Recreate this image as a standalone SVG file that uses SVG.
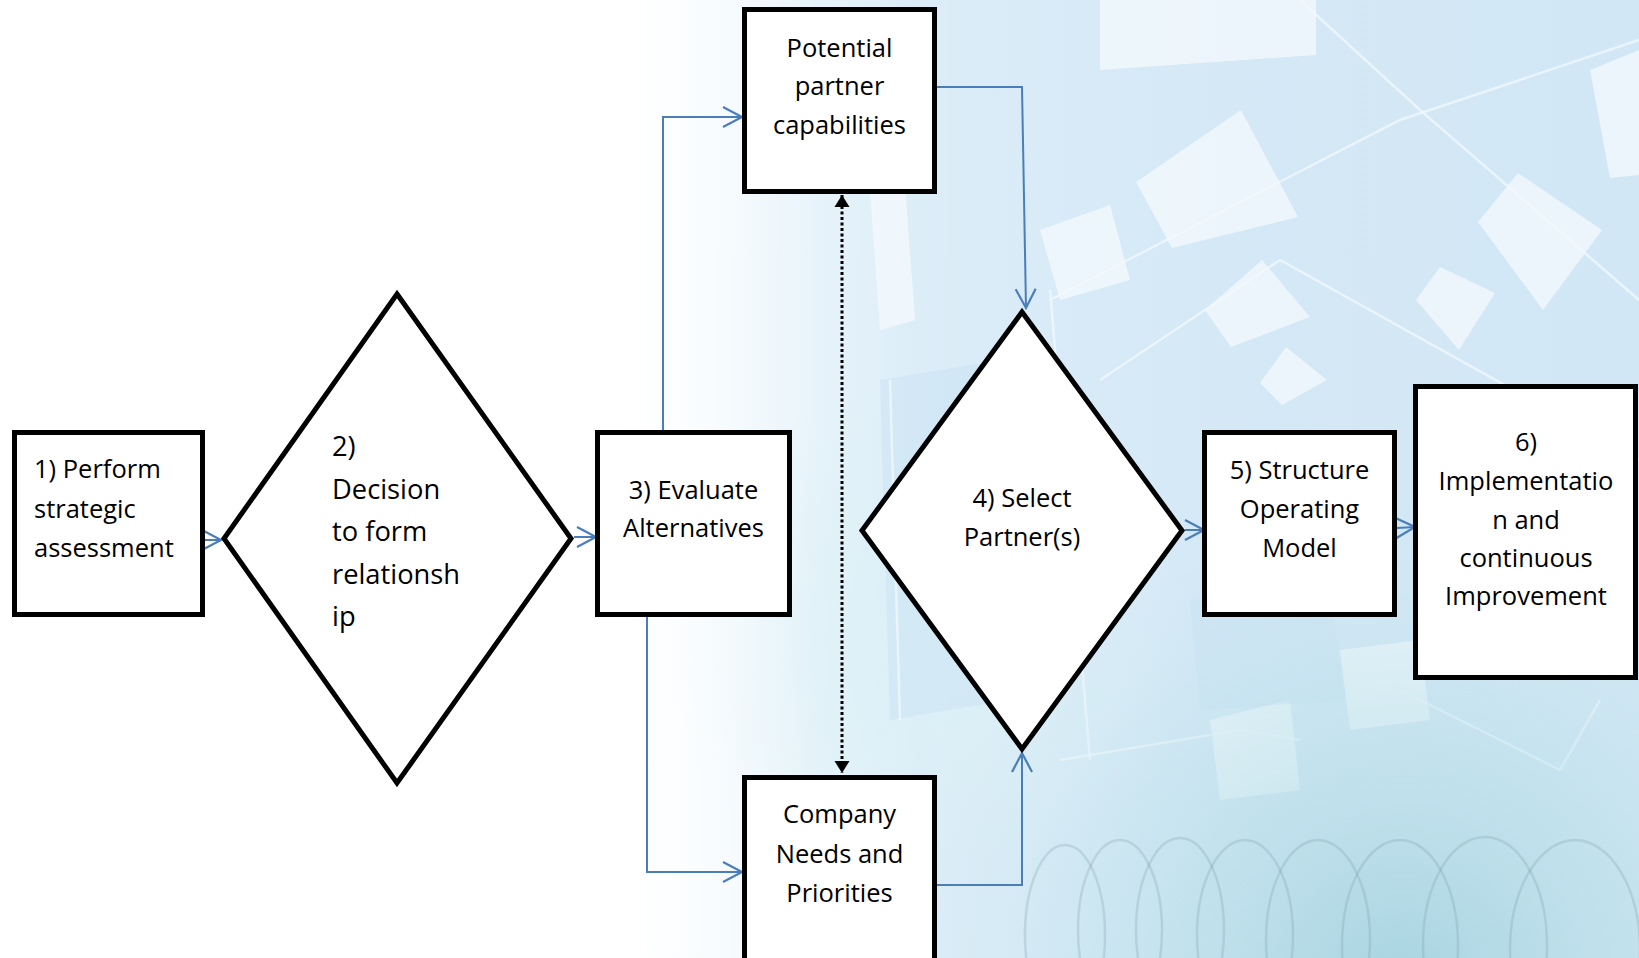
<svg xmlns="http://www.w3.org/2000/svg" width="1639" height="958" viewBox="0 0 1639 958">
  <defs>
    <linearGradient id="bgWash" x1="0" y1="0" x2="1639" y2="0" gradientUnits="userSpaceOnUse">
      <stop offset="0" stop-color="#ffffff"/>
      <stop offset="0.38" stop-color="#ffffff"/>
      <stop offset="0.46" stop-color="#eef7fc"/>
      <stop offset="0.56" stop-color="#dcedf8"/>
      <stop offset="0.75" stop-color="#d4e8f6"/>
      <stop offset="1" stop-color="#d2e7f5"/>
    </linearGradient>
    <radialGradient id="tealGlow" cx="1400" cy="990" r="500" gradientUnits="userSpaceOnUse">
      <stop offset="0" stop-color="#9fd0dc" stop-opacity="0.85"/>
      <stop offset="0.6" stop-color="#b8dfe8" stop-opacity="0.4"/>
      <stop offset="1" stop-color="#cfeaf0" stop-opacity="0"/>
    </radialGradient>
    <radialGradient id="cyanGlow" cx="930" cy="640" r="260" gradientUnits="userSpaceOnUse">
      <stop offset="0" stop-color="#dcf1f6" stop-opacity="0.9"/>
      <stop offset="1" stop-color="#dcf1f6" stop-opacity="0"/>
    </radialGradient>
    <linearGradient id="leftFade" x1="560" y1="0" x2="820" y2="0" gradientUnits="userSpaceOnUse">
      <stop offset="0" stop-color="#ffffff" stop-opacity="1"/>
      <stop offset="1" stop-color="#ffffff" stop-opacity="0"/>
    </linearGradient>
    <marker id="openHead" markerUnits="userSpaceOnUse" markerWidth="24" markerHeight="24" viewBox="0 0 24 24" refX="21" refY="12" orient="auto">
      <path d="M2,2 L21,12 L2,22" fill="none" stroke="#4a7ebb" stroke-width="2.2"/>
    </marker>
    <marker id="solidHead" markerUnits="userSpaceOnUse" markerWidth="18" markerHeight="16" viewBox="0 0 18 16" refX="13" refY="8" orient="auto-start-reverse">
      <path d="M1,0.5 L13,8 L1,15.5 Z" fill="#000000"/>
    </marker>
    <style>
      .box { fill: #ffffff; stroke: #000000; stroke-width: 5; stroke-linejoin: miter; }
      .link { fill: none; stroke: #4a7ebb; stroke-width: 2; marker-end: url(#openHead); }
      .dotted { fill: none; stroke: #000000; stroke-width: 3; stroke-dasharray: 3 2.5; marker-start: url(#solidHead); marker-end: url(#solidHead); }
      .lbl { font-family: "Open Sans", "Liberation Sans", sans-serif; font-size: 25.5px; fill: #000000; }
      .mid { text-anchor: middle; }
      .big { font-size: 27.3px; }
      .tile { fill: #f6fbfe; opacity: 0.7; }
      .tileBlue { fill: #c9e1f4; opacity: 0.5; }
      .edge { fill: none; stroke: #f4f9fd; stroke-width: 2.5; opacity: 0.7; }
      .coil { fill: none; stroke: #6f8d9a; stroke-width: 2.5; opacity: 0.22; }
    </style>
  </defs>

  <!-- backdrop: soft blue wash with scattered tilted squares -->
  <g id="backdrop">
    <rect x="0" y="0" width="1639" height="958" fill="url(#bgWash)"/>
    <rect x="0" y="0" width="1639" height="958" fill="url(#cyanGlow)"/>
    <polygon class="tileBlue" points="880,380 1000,360 1010,700 890,720"/>
    <polygon class="tile" points="870,190 905,185 915,320 880,330"/>
    <polygon class="tile" points="1100,0 1316,0 1316,55 1100,70"/>
    <polygon class="tile" points="1136,182 1241,110 1298,217 1172,248"/>
    <polygon class="tile" points="1518,173 1602,230 1543,310 1478,222"/>
    <polygon class="tile" points="1262,260 1310,317 1231,347 1205,310"/>
    <polygon class="tile" points="1440,267 1495,293 1459,350 1416,300"/>
    <polygon class="tile" points="1286,347 1327,380 1282,405 1260,383"/>
    <polygon class="tile" points="1590,70 1639,50 1639,175 1610,178"/>
    <polygon class="tile" points="1040,230 1110,205 1130,280 1060,300"/>
    <polygon class="tile" points="1340,650 1420,640 1430,720 1350,730"/>
    <polygon class="tile" points="1210,720 1290,700 1300,790 1220,800"/>
    <polygon class="tileBlue" points="1190,600 1330,590 1345,700 1200,710"/>
    <polyline class="edge" points="1050,300 1400,120 1639,40"/>
    <polyline class="edge" points="1300,0 1420,110 1639,300"/>
    <polyline class="edge" points="1100,380 1280,260 1639,460"/>
    <polyline class="edge" points="1060,760 1240,730 1300,740"/>
    <polyline class="edge" points="1400,690 1560,770 1600,700"/>
    <polyline class="edge" points="1050,290 1090,760"/>
    <polyline class="edge" points="890,380 900,720"/>
    <rect x="0" y="0" width="1639" height="958" fill="url(#tealGlow)"/>
    <rect x="540" y="0" width="280" height="958" fill="url(#leftFade)"/>
    <rect x="0" y="0" width="560" height="958" fill="#ffffff"/>
    <ellipse class="coil" cx="1065" cy="935" rx="40" ry="90"/>
    <ellipse class="coil" cx="1120" cy="930" rx="42" ry="90"/>
    <ellipse class="coil" cx="1180" cy="930" rx="44" ry="92"/>
    <ellipse class="coil" cx="1245" cy="935" rx="48" ry="95"/>
    <ellipse class="coil" cx="1318" cy="940" rx="52" ry="100"/>
    <ellipse class="coil" cx="1400" cy="945" rx="58" ry="105"/>
    <ellipse class="coil" cx="1485" cy="945" rx="62" ry="108"/>
    <ellipse class="coil" cx="1575" cy="950" rx="65" ry="110"/>
  </g>

  <!-- connectors -->
  <g id="connectors">
    <path class="link" d="M205,540 L221,540"/>
    <path class="link" d="M574,537 L596,537"/>
    <path class="link" d="M663,430 L663,117 L742,117"/>
    <path class="link" d="M647,617 L647,872 L742,872"/>
    <path class="link" d="M937,87 L1022,87 L1026,308"/>
    <path class="link" d="M937,885 L1022,885 L1022,753"/>
    <path class="link" d="M1185,530 L1204,530"/>
    <path class="link" d="M1397,528 L1415,527"/>
    <path class="dotted" d="M842,195 L842,773"/>
  </g>

  <g id="step1">
    <rect class="box" x="14.5" y="432.5" width="188" height="182"/>
    <text class="lbl" x="34" y="478">1) Perform</text>
    <text class="lbl" x="34" y="518">strategic</text>
    <text class="lbl" x="34" y="557">assessment</text>
  </g>

  <g id="step2">
    <polygon class="box" points="397,294 571,538.5 397,783 224,538.5"/>
    <text class="lbl big" x="332" y="456">2)</text>
    <text class="lbl big" x="332" y="498.5">Decision</text>
    <text class="lbl big" x="332" y="541">to form</text>
    <text class="lbl big" x="332" y="583.5">relationsh</text>
    <text class="lbl big" x="332" y="626">ip</text>
  </g>

  <g id="step3">
    <rect class="box" x="597.5" y="432.5" width="192" height="182"/>
    <text class="lbl mid" x="693.5" y="499">3) Evaluate</text>
    <text class="lbl mid" x="693.5" y="537">Alternatives</text>
  </g>

  <g id="partnerCapabilities">
    <rect class="box" x="744.5" y="9.5" width="190" height="182"/>
    <text class="lbl mid" x="839.5" y="57">Potential</text>
    <text class="lbl mid" x="839.5" y="95">partner</text>
    <text class="lbl mid" x="839.5" y="134">capabilities</text>
  </g>

  <g id="companyNeeds">
    <rect class="box" x="744.5" y="777.5" width="190" height="200"/>
    <text class="lbl mid" x="839.5" y="823">Company</text>
    <text class="lbl mid" x="839.5" y="863">Needs and</text>
    <text class="lbl mid" x="839.5" y="902">Priorities</text>
  </g>

  <g id="step4">
    <polygon class="box" points="1022,312 1182,530.5 1022,749 862,530.5"/>
    <text class="lbl mid" x="1022" y="507">4) Select</text>
    <text class="lbl mid" x="1022" y="546">Partner(s)</text>
  </g>

  <g id="step5">
    <rect class="box" x="1204.5" y="432.5" width="190" height="182"/>
    <text class="lbl mid" x="1299.5" y="479">5) Structure</text>
    <text class="lbl mid" x="1299.5" y="518">Operating</text>
    <text class="lbl mid" x="1299.5" y="557">Model</text>
  </g>

  <g id="step6">
    <rect class="box" x="1415.5" y="386.5" width="220" height="291"/>
    <text class="lbl mid" x="1526" y="451">6)</text>
    <text class="lbl mid" x="1526" y="490">Implementatio</text>
    <text class="lbl mid" x="1526" y="529">n and</text>
    <text class="lbl mid" x="1526" y="567">continuous</text>
    <text class="lbl mid" x="1526" y="605">Improvement</text>
  </g>
</svg>
